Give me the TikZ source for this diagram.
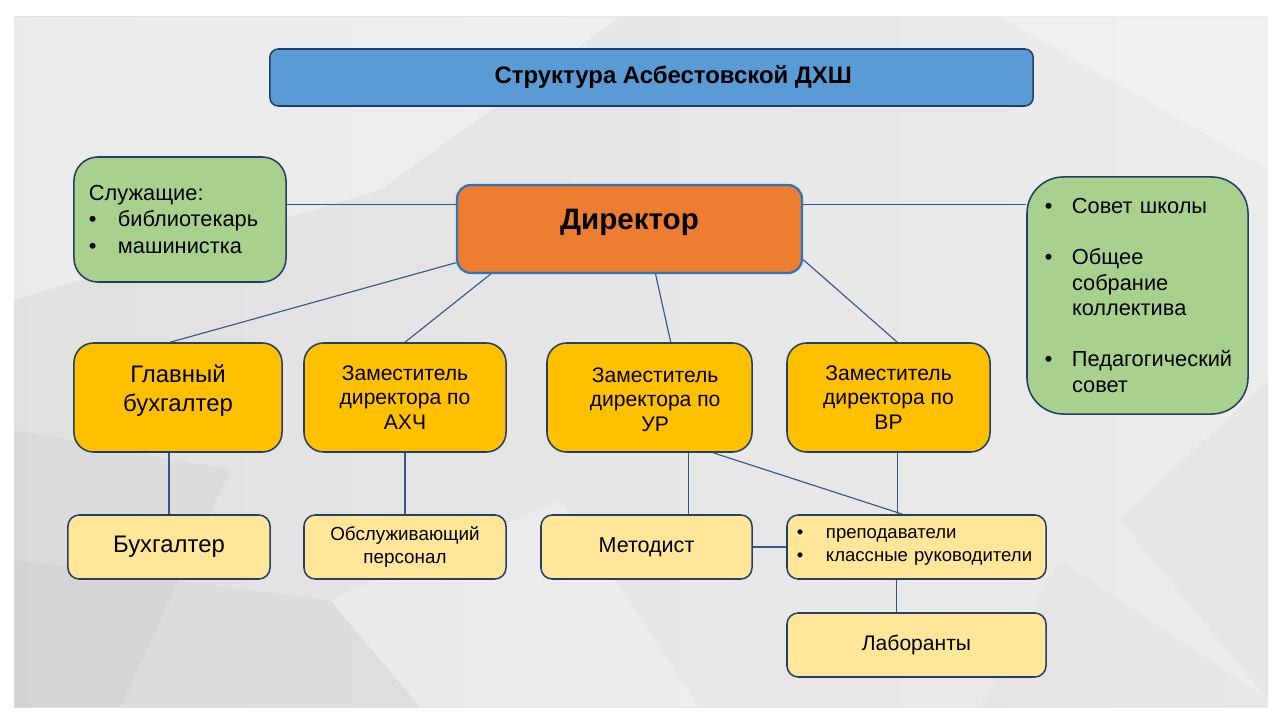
\documentclass[tikz,border=0pt]{standalone}
\usepackage{fontspec}
\setmainfont{Liberation Sans}
\usetikzlibrary{positioning}

\definecolor{boxline}{HTML}{243F66}
\definecolor{linkcol}{HTML}{34568A}
\definecolor{titlefill}{HTML}{5B9BD5}
\definecolor{dirfill}{HTML}{ED7D31}
\definecolor{dirline}{HTML}{2E75B6}
\definecolor{greenfill}{HTML}{A9D18E}
\definecolor{goldfill}{HTML}{FFC000}
\definecolor{paleyellow}{HTML}{FFE699}

% lift a label inside its box by padding its depth
\newcommand{\liftup}[2]{\raisebox{0pt}[\height][\dimexpr\depth+#1\relax]{#2}}
\newcommand{\pushdown}[2]{\raisebox{0pt}[\dimexpr\height+#1\relax][\depth]{#2}}

\begin{document}
\begin{tikzpicture}[x=0.025cm, y=-0.025cm,
    box/.style={draw=boxline, line width=1.1pt, align=center, inner sep=0pt, text=black},
    titlebox/.style={box, fill=titlefill, rounded corners=6pt, font=\fontsize{17}{20}\selectfont\bfseries},
    dirbox/.style={box, draw=dirline, line width=1.6pt, fill=dirfill, rounded corners=10pt, font=\fontsize{21}{25}\selectfont\bfseries},
    greenbox/.style={box, fill=greenfill, rounded corners=#1, align=left},
    deputy/.style={box, fill=goldfill, rounded corners=14pt, minimum height=2.725cm, font=\fontsize{15}{17.4}\selectfont},
    staffbox/.style={box, fill=paleyellow, rounded corners=8pt, minimum height=1.6cm},
    link/.style={draw=linkcol, line width=0.8pt}]
  \useasboundingbox (0,0) rectangle (1280,720);
  % faceted grey backdrop
  \shade[left color=gray!24, middle color=gray!5, right color=gray!15] (14,17) rectangle (1268,707);
  \fill[white, opacity=0.35] (14,17) -- (620,17) -- (380,190) -- (14,300) -- cycle;
  \fill[gray, opacity=0.06] (14,430) -- (230,470) -- (120,707) -- (14,707) -- cycle;
  \fill[gray, opacity=0.06] (14,560) -- (330,600) -- (420,707) -- (14,707) -- cycle;
  \fill[white, opacity=0.25] (330,600) -- (560,500) -- (700,707) -- (420,707) -- cycle;
  \fill[gray, opacity=0.05] (1268,380) -- (1120,520) -- (1268,700) -- cycle;
  \fill[white, opacity=0.30] (1000,17) -- (1268,17) -- (1268,170) -- cycle;
  \fill[gray, opacity=0.04] (1060,560) -- (1268,700) -- (1268,707) -- (980,707) -- cycle;

  \node[titlebox, minimum width=19.075cm, minimum height=1.425cm] (title) at (651.5,77.5) {\hspace*{31pt}Структура Асбестовской ДХШ};
  \node[dirbox, minimum width=8.625cm, minimum height=2.2cm] (dir) at (629.5,229) {\liftup{9pt}{Директор}};

  \node[greenbox=17pt, minimum width=5.3cm, minimum height=3.125cm, text width=4.55cm,
        font=\fontsize{15.5}{18.8}\selectfont] (serv) at (180,219.5)
    {Служащие:\\
     \makebox[0.725cm][l]{•}библиотекарь\\
     \makebox[0.725cm][l]{•}машинистка};
  \node[greenbox=26pt, minimum width=5.525cm, minimum height=5.925cm, text width=4.625cm,
        font=\fontsize{15.5}{18.2}\selectfont] (council) at (1137.5,295.5)
    {\makebox[0.675cm][l]{•}Совет школы\\[18.2pt]
     \makebox[0.675cm][l]{•}Общее\\
     \hspace*{0.675cm}собрание\\
     \hspace*{0.675cm}коллектива\\[18.2pt]
     \makebox[0.675cm][l]{•}Педагогический\\
     \hspace*{0.675cm}совет};

  \node[deputy, minimum width=5.2cm, font=\fontsize{17}{20.5}\selectfont] (chief) at (178,397.5)
    {\liftup{9pt}{\begin{tabular}{@{}c@{}}Главный\\бухгалтер\end{tabular}}};
  \node[deputy, minimum width=5.05cm] (ahch) at (405,397.5) {Заместитель\\директора по\\АХЧ};
  \node[deputy, minimum width=5.125cm] (ur) at (649.5,397.5)
    {\hspace*{8pt}\pushdown{6pt}{\begin{tabular}{@{}c@{}}Заместитель\\директора по\\УР\end{tabular}}};
  \node[deputy, minimum width=5.075cm] (vr) at (888.5,397.5) {Заместитель\\директора по\\ВР};

  \node[staffbox, minimum width=5.05cm, font=\fontsize{17}{20}\selectfont] (acc) at (169,547) {Бухгалтер};
  \node[staffbox, minimum width=5.05cm, font=\fontsize{13.4}{16.3}\selectfont] (service) at (405,547) {Обслуживающий\\персонал};
  \node[staffbox, minimum width=5.275cm, font=\fontsize{15.3}{18}\selectfont] (meth) at (646.5,547) {Методист};
  \node[staffbox, minimum width=6.475cm, text width=5.975cm, align=left,
        font=\fontsize{13.2}{16.3}\selectfont] (teach) at (916.5,547)
    {\makebox[0.725cm][l]{•}преподаватели\\
     \makebox[0.725cm][l]{•}классные руководители};
  \node[staffbox, minimum width=6.475cm, font=\fontsize{15}{18}\selectfont] (lab) at (916.5,645) {Лаборанты};

  \path[link] (serv.east |- dir.172) -- (dir.172);
  \path[link] (dir.8) -- (dir.8 -| council.west);
  \path[link] (dir.191) -- (chief.98);
  \path[link] (dir.198) -- (ahch.north);
  \path[link] (dir.300) -- (ur.69);
  \path[link] (dir.-10) -- (vr.81);
  \path[link] (acc.north |- chief.south) -- (acc.north);
  \path[link] (ahch.south) -- (service.north);
  \path[link] (ur.-55.5) -- (meth.north -| ur.-55.5);
  \path[link] (ur.-41.5) -- (teach.113);
  \path[link] (vr.-81) -- (teach.north -| vr.-81);
  \path[link] (meth.east) -- (teach.west);
  \path[link] (teach.239) -- (lab.north -| teach.239);
\end{tikzpicture}
\end{document}
